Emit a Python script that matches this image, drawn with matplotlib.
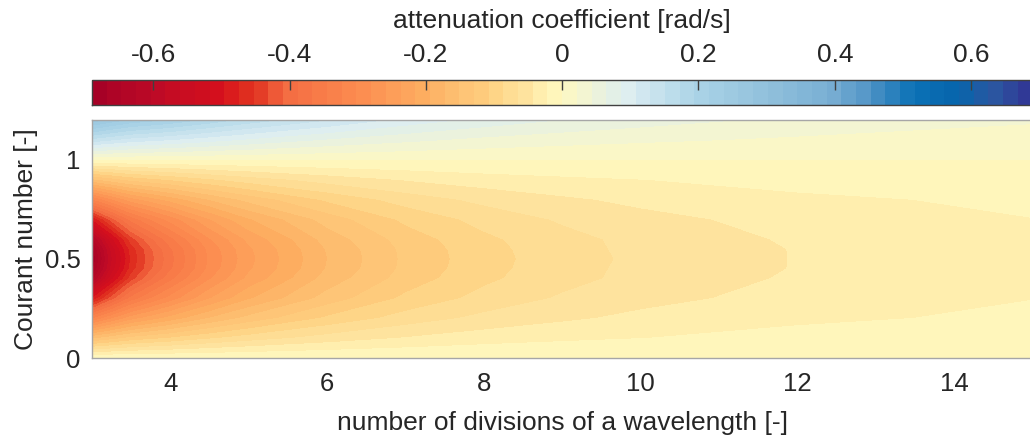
import numpy as np
import matplotlib.pyplot as plt
from matplotlib.colors import LinearSegmentedColormap

plt.rcParams['font.family'] = ['Liberation Sans', 'DejaVu Sans']
plt.rcParams['axes.unicode_minus'] = False

# grid
divisions = [3, 3.25, 3.5, 3.75, 4, 4.5, 5, 6, 7, 8, 9, 10, 12, 15]
courant = [0.0, 0.1, 0.2, 0.3, 0.4, 0.45, 0.5, 0.55, 0.6, 0.7, 0.8, 0.9, 1.0, 1.1, 1.2]

row_000 = [0, 0, 0, 0, 0, 0, 0, 0, 0, 0, 0, 0, 0, 0]
row_010 = [-0.157, -0.140, -0.124, -0.115, -0.107, -0.090, -0.076, -0.056, -0.042, -0.032, -0.026, -0.022, -0.014, -0.010]
row_020 = [-0.327, -0.284, -0.248, -0.227, -0.208, -0.172, -0.144, -0.104, -0.077, -0.059, -0.047, -0.038, -0.026, -0.017]
row_030 = [-0.497, -0.421, -0.360, -0.324, -0.294, -0.239, -0.197, -0.142, -0.103, -0.079, -0.062, -0.050, -0.035, -0.022]
row_040 = [-0.636, -0.525, -0.442, -0.393, -0.353, -0.283, -0.232, -0.164, -0.120, -0.091, -0.072, -0.058, -0.040, -0.025]
row_045 = [-0.678, -0.555, -0.465, -0.414, -0.371, -0.296, -0.241, -0.171, -0.124, -0.094, -0.073, -0.059, -0.042, -0.026]
row_050 = [-0.693, -0.565, -0.472, -0.418, -0.375, -0.299, -0.244, -0.173, -0.125, -0.095, -0.074, -0.060, -0.042, -0.026]
row_055 = [-0.678, -0.555, -0.465, -0.414, -0.371, -0.296, -0.241, -0.171, -0.124, -0.094, -0.073, -0.059, -0.042, -0.026]
row_060 = [-0.636, -0.525, -0.442, -0.393, -0.353, -0.283, -0.232, -0.164, -0.120, -0.091, -0.072, -0.058, -0.040, -0.025]
row_070 = [-0.497, -0.421, -0.360, -0.324, -0.294, -0.239, -0.197, -0.142, -0.103, -0.079, -0.062, -0.050, -0.035, -0.022]
row_080 = [-0.327, -0.284, -0.248, -0.227, -0.208, -0.172, -0.144, -0.104, -0.077, -0.059, -0.047, -0.038, -0.026, -0.017]
row_090 = [-0.157, -0.140, -0.124, -0.115, -0.107, -0.090, -0.076, -0.056, -0.042, -0.032, -0.026, -0.022, -0.014, -0.010]
row_100 = [0, 0, 0, 0, 0, 0, 0, 0, 0, 0, 0, 0, 0, 0]
row_110 = [0.143, 0.130, 0.119, 0.113, 0.107, 0.094, 0.082, 0.062, 0.048, 0.037, 0.030, 0.025, 0.018, 0.011]
row_120 = [0.271, 0.250, 0.231, 0.222, 0.212, 0.187, 0.164, 0.130, 0.100, 0.079, 0.064, 0.053, 0.037, 0.024]

atten = np.array([row_000, row_010, row_020, row_030, row_040, row_045, row_050,
                  row_055, row_060, row_070, row_080, row_090, row_100,
                  row_110, row_120])

cbar_ticks = [-0.6, -0.4, -0.2, 0, 0.2, 0.4, 0.6]
cbar_labels = ['-0.6', '-0.4', '-0.2', '0', '0.2', '0.4', '0.6']

vlim = 0.69
nlev = 64
text_col = '#262626'

# red-yellow-blue map sampled from the original colour bar
cmap_nodes = [
    (0.000, '#a50026'), (0.065, '#bd0a26'), (0.138, '#d7101c'),
    (0.167, '#e0301f'), (0.210, '#f46d43'), (0.283, '#fc8b4f'),
    (0.355, '#fdae61'), (0.428, '#fed384'), (0.500, '#fff9c0'),
    (0.572, '#dcedf2'), (0.645, '#abd4e7'), (0.717, '#92c1dc'),
    (0.790, '#78aed3'), (0.833, '#4a90c4'), (0.877, '#0b72b6'),
    (0.920, '#0765ac'), (0.964, '#2b56a0'), (1.000, '#313695'),
]
cmap = LinearSegmentedColormap.from_list('rdylbu_ref', cmap_nodes)

fig = plt.figure(figsize=(10.3, 4.41), dpi=100)
ax = fig.add_axes([0.0893, 0.188, 0.913, 0.540])

levels = np.linspace(-vlim, vlim, nlev + 1)
cs = ax.contourf(divisions, courant, atten, levels=levels, cmap=cmap,
                 antialiased=False)

ax.set_xlim(3, 15)
ax.set_ylim(0, 1.2)
ax.set_xticks([4, 6, 8, 10, 12, 14])
ax.set_yticks([0, 0.5, 1])
ax.set_yticklabels(['0', '0.5', '1'])
ax.tick_params(length=0, labelsize=18.5, labelcolor=text_col)
ax.tick_params(axis='x', pad=10)
ax.tick_params(axis='y', pad=8)
ax.set_xlabel('number of divisions of a wavelength [-]', fontsize=19,
              color=text_col, labelpad=11)
ax.set_ylabel('Courant number [-]', fontsize=19, color=text_col, labelpad=5)
for sp in ax.spines.values():
    sp.set_color('#a6a6a6')
    sp.set_linewidth(1.0)

cax = fig.add_axes([0.0893, 0.762, 0.913, 0.057])
cb = fig.colorbar(cs, cax=cax, orientation='horizontal', ticks=cbar_ticks)
cb.set_ticklabels(cbar_labels)
cax.xaxis.set_ticks_position('top')
cax.xaxis.set_label_position('top')
cax.tick_params(direction='in', length=7, width=1, color='#404040',
                labelsize=19, labelcolor=text_col, pad=9)
cb.set_label('attenuation coefficient [rad/s]', fontsize=19, color=text_col,
             labelpad=11)
cb.outline.set_edgecolor('#404040')
cb.outline.set_linewidth(1.0)

fig.savefig('out.png', dpi=100)
